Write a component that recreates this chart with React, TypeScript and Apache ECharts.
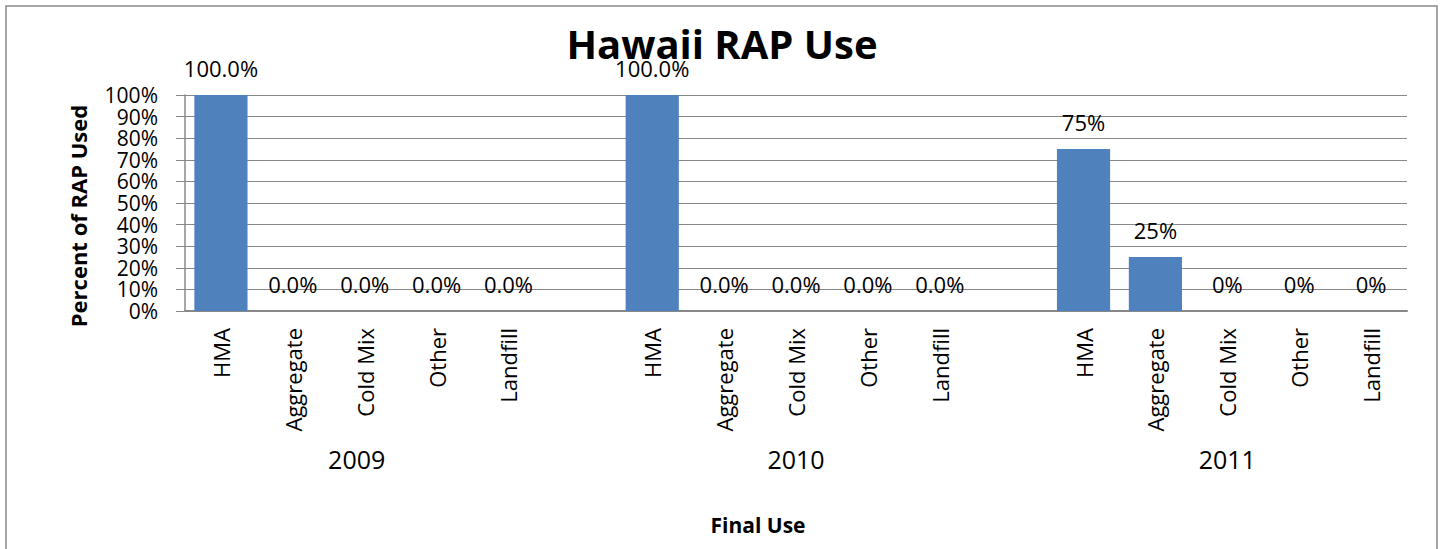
import React, { useEffect, useRef } from "react";
import * as echarts from "echarts";

// ---- data ----
const years = ["2009", "2010", "2011"];
const finalUses = ["HMA", "Aggregate", "Cold Mix", "Other", "Landfill"];
const values2009 = [100, 0, 0, 0, 0];
const values2010 = [100, 0, 0, 0, 0];
const values2011 = [75, 25, 0, 0, 0];
const labelDecimals = [1, 1, 0];
const yMin = 0;
const yMax = 100;
const yInterval = 10;

const title = "Hawaii RAP Use";
const xAxisTitle = "Final Use";
const yAxisTitle = "Percent of RAP Used";

const FONT = "'Open Sans', 'Noto Sans', sans-serif";
const GRAY = "#888888";

export default function App() {
  const ref = useRef<HTMLDivElement>(null);

  useEffect(() => {
    if (!ref.current) return;
    const chart = echarts.init(ref.current, undefined, { renderer: "svg" });

    const seriesByYear = [values2009, values2010, values2011];
    const categories: string[] = [];
    const yearAxis: any[] = [];
    const barData: any[] = [];
    seriesByYear.forEach((vals, yi) => {
      finalUses.forEach((u, ui) => {
        categories.push(u);
        const v = vals[ui];
        barData.push({
          value: v,
          label: {
            formatter: v.toFixed(labelDecimals[yi]) + "%",
          },
        });
        if (ui === 2) {
          yearAxis.push(
            yi === 0
              ? { value: years[yi], textStyle: { padding: [0, 16, 0, 0] } }
              : years[yi]
          );
        } else {
          yearAxis.push("");
        }
      });
      if (yi < seriesByYear.length - 1) {
        categories.push(" ");
        yearAxis.push("");
        barData.push({ value: "-", label: { show: false } });
      }
    });

    chart.setOption({
      animation: false,
      backgroundColor: "#ffffff",
      textStyle: { fontFamily: FONT },
      title: {
        text: title,
        left: "center",
        top: 18,
        textStyle: {
          fontFamily: FONT,
          fontSize: 40,
          fontWeight: "bold",
          color: "#000",
        },
      },
      graphic: [
        {
          type: "rect",
          shape: { x: 6, y: 6, width: 1431, height: 600 },
          style: { fill: "none", stroke: GRAY, lineWidth: 1.5 },
          silent: true,
        },
      ],
      grid: { left: 185, right: 37, top: 95, bottom: 238, containLabel: false },
      xAxis: [
        {
          type: "category",
          data: categories,
          position: "bottom",
          axisLine: { show: true, lineStyle: { color: GRAY, width: 2 } },
          axisTick: { show: false },
          axisLabel: {
            rotate: 90,
            interval: 0,
            margin: 17,
            fontFamily: FONT,
            fontSize: 22,
            color: "#000",
          },
          name: xAxisTitle,
          nameLocation: "middle",
          nameGap: 203,
          nameTextStyle: {
            fontFamily: FONT,
            fontSize: 21,
            fontWeight: "bold",
            color: "#000",
            padding: [0, 76, 0, 0],
          },
        },
        {
          type: "category",
          data: yearAxis,
          position: "bottom",
          axisLine: { show: false },
          axisTick: { show: false },
          axisLabel: {
            interval: 0,
            margin: 135,
            fontFamily: FONT,
            fontSize: 25,
            color: "#000",
          },
        },
      ],
      yAxis: {
        type: "value",
        min: yMin,
        max: yMax,
        interval: yInterval,
        axisLine: { show: true, lineStyle: { color: GRAY, width: 1.5 } },
        axisTick: { show: true, length: 9, lineStyle: { color: GRAY } },
        splitLine: { show: true, lineStyle: { color: GRAY, width: 1.2 } },
        axisLabel: {
          formatter: "{value}%",
          margin: 27,
          fontFamily: FONT,
          fontSize: 21,
          lineHeight: 14,
          showMinLabel: true,
          showMaxLabel: true,
          hideOverlap: false,
          color: "#000",
        },
        name: yAxisTitle,
        nameLocation: "middle",
        nameGap: 96,
        nameTextStyle: {
          fontFamily: FONT,
          fontSize: 22,
          fontWeight: "bold",
          color: "#000",
          padding: [0, 26, 0, 0],
        },
      },
      series: [
        {
          type: "bar",
          xAxisIndex: 0,
          data: barData,
          barWidth: "74%",
          itemStyle: { color: "#4F81BD" },
          label: {
            show: true,
            position: "top",
            distance: 16,
            fontFamily: FONT,
            fontSize: 22,
            color: "#000",
          },
        },
      ],
    });

    return () => chart.dispose();
  }, []);

  return (
    <div
      ref={ref}
      style={{ position: "absolute", left: 0, top: 0, width: 1444, height: 549 }}
    />
  );
}
